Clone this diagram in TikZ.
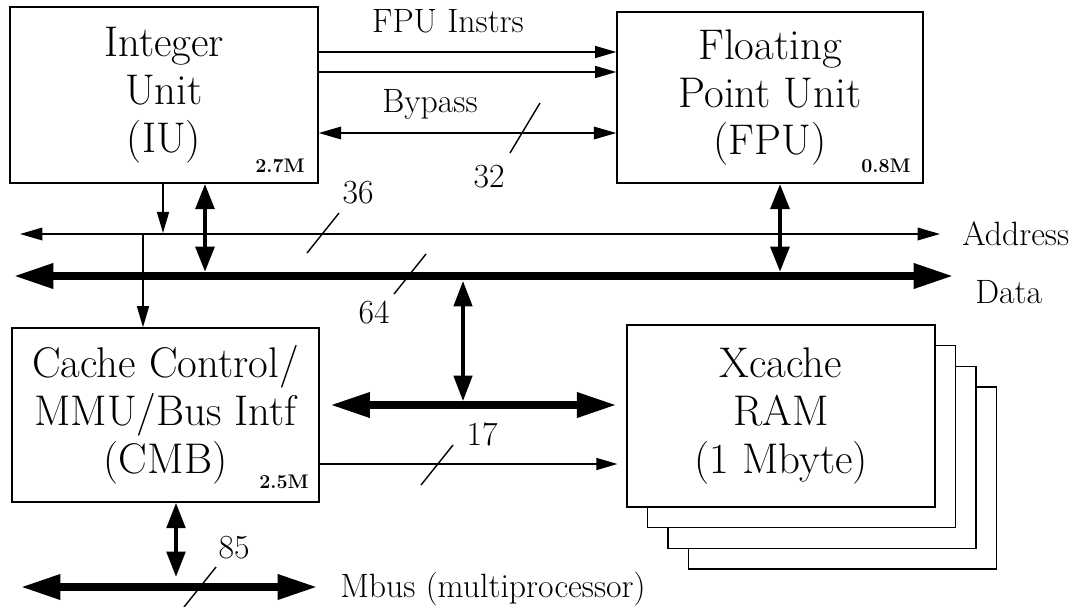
\documentclass[tikz,border=0pt]{standalone}
\usepackage{tikz}
\usetikzlibrary{arrows.meta,positioning,calc}
\newcommand{\unitfont}{\fontsize{30.5}{34}\selectfont}
\newcommand{\labelfont}{\fontsize{24}{28}\selectfont}
\newcommand{\countfont}{\fontsize{14}{16}\selectfont\bfseries}
\tikzset{
unit/.style = {draw, fill=white, rectangle, align = center, line width=1pt, font=\unitfont, inner sep=0pt},
lbl/.style = {font=\labelfont, inner sep=0pt, anchor=base},
trcount/.style = {font=\countfont, inner sep=0pt, anchor=base east},
sig/.style = {line width=1.1pt, -{Triangle[length=15pt,width=8.5pt]}},
addr/.style = {line width=1.1pt, {Triangle[length=16pt,width=9pt]}-{Triangle[length=16pt,width=9pt]}},
link/.style = {line width=3.5pt, {Triangle[length=18pt,width=13pt]}-{Triangle[length=18pt,width=13pt]}},
bus/.style = {line width=5pt, {Triangle[length=28pt,width=17pt]}-{Triangle[length=28pt,width=17pt]}},
tick/.style = {line width=1pt},
}
\begin{document}
\begin{tikzpicture}[x=0.025cm, y=-0.025cm]
        \useasboundingbox (0,0) rectangle (1085,606);
        %units
        \node [unit, minimum width=7.7cm, minimum height=4.4cm] (iu) at (164,95) {Integer\\Unit\\(IU)};
        \node [unit, minimum width=7.65cm, minimum height=4.275cm] (fpu) at (770,97.5) {Floating\\Point Unit\\(FPU)};
        \node [unit, minimum width=7.675cm, minimum height=4.35cm] (cmb) at (165.5,415) {Cache Control/\\MMU/Bus Intf\\(CMB)};
        %xcache chips, back ones first
        \foreach \k in {3,2,1}
            \node [unit, minimum width=7.7cm, minimum height=4.55cm] (xc\k) at (781+20.5*\k,416+20.7*\k) {};
        \node [unit, minimum width=7.7cm, minimum height=4.55cm] (xcache) at (781,416) {Xcache\\RAM\\(1 Mbyte)};
        \node [trcount] (iucount) at (305,172) {2.7M};
        \node [trcount] (fpucount) at (911,172) {0.8M};
        \node [trcount] (cmbcount) at (309,488) {2.5M};

        %IU to FPU
        \draw [sig] (iu.east |- 0,52) -- (fpu.west |- 0,52);
        \draw [sig] (iu.east |- 0,72) -- (fpu.west |- 0,72);
        \draw [addr] (iu.east |- 0,133) -- (fpu.west |- 0,133);
        \node [lbl] (instrlbl) at (448,32) {FPU Instrs};
        \node [lbl] (bypasslbl) at (430,112) {Bypass};
        \draw [tick] (525,128) +(-15,25) -- +(15,-25);
        \node [lbl] (w32) at (489,187) {32};

        %address and data bus
        \coordinate (addrL) at (20,234);
        \coordinate (addrR) at (940,234);
        \coordinate (dataL) at (14,276);
        \coordinate (dataR) at (953,276);
        \draw [addr] (addrL) -- (addrR);
        \draw [bus] (dataL) -- (dataR);
        \node [lbl, anchor=base west] (addrlbl) at (962,245) {Address};
        \node [lbl, anchor=base west] (datalbl) at (975,303) {Data};
        \draw [tick] (323,233) +(-16,20) -- +(16,-20);
        \node [lbl] (w36) at (358,203) {36};
        \draw [tick] (410,274) +(-16,20) -- +(16,-20);
        \node [lbl] (w64) at (374,323) {64};

        %taps
        \coordinate (tapA) at (163,233);
        \coordinate (tapB) at (205,272);
        \coordinate (tapC) at (143,234);
        \coordinate (tapD) at (780,272);
        \coordinate (tapE) at (463,281);
        \coordinate (tapF) at (463,401);
        \draw [sig] (iu.south -| tapA) -- (tapA);
        \draw [link] (iu.south -| tapB) -- (tapB);
        \draw [sig] (tapC) -- (cmb.north -| tapC);
        \draw [link] (fpu.south -| tapD) -- (tapD);
        \draw [link, line width=2.5pt] (tapE) -- (tapF);

        %CMB to xcache
        \draw [bus, shorten <=0.27cm, shorten >=0.25cm] (cmb.east |- 0,405) -- (xcache.west |- 0,405);
        \draw [sig, shorten >=0.22cm] (cmb.east |- 0,464) -- (xcache.west |- 0,464);
        \draw [tick] (437,465) +(-16,20) -- +(16,-20);
        \node [lbl] (w17) at (482,445) {17};

        %mbus
        \coordinate (mbusL) at (21,587);
        \coordinate (mbusR) at (317,587);
        \coordinate (tapG) at (176,577);
        \draw [bus] (mbusL) -- (mbusR);
        \draw [link, line width=3pt] (cmb.south -| tapG) -- (tapG);
        \draw [tick] (200,587) +(-16,20) -- +(16,-20);
        \node [lbl] (w85) at (234,558) {85};
        \node [lbl, anchor=base west] (mbuslbl) at (340,597) {Mbus (multiprocessor)};
\end{tikzpicture}
\end{document}
